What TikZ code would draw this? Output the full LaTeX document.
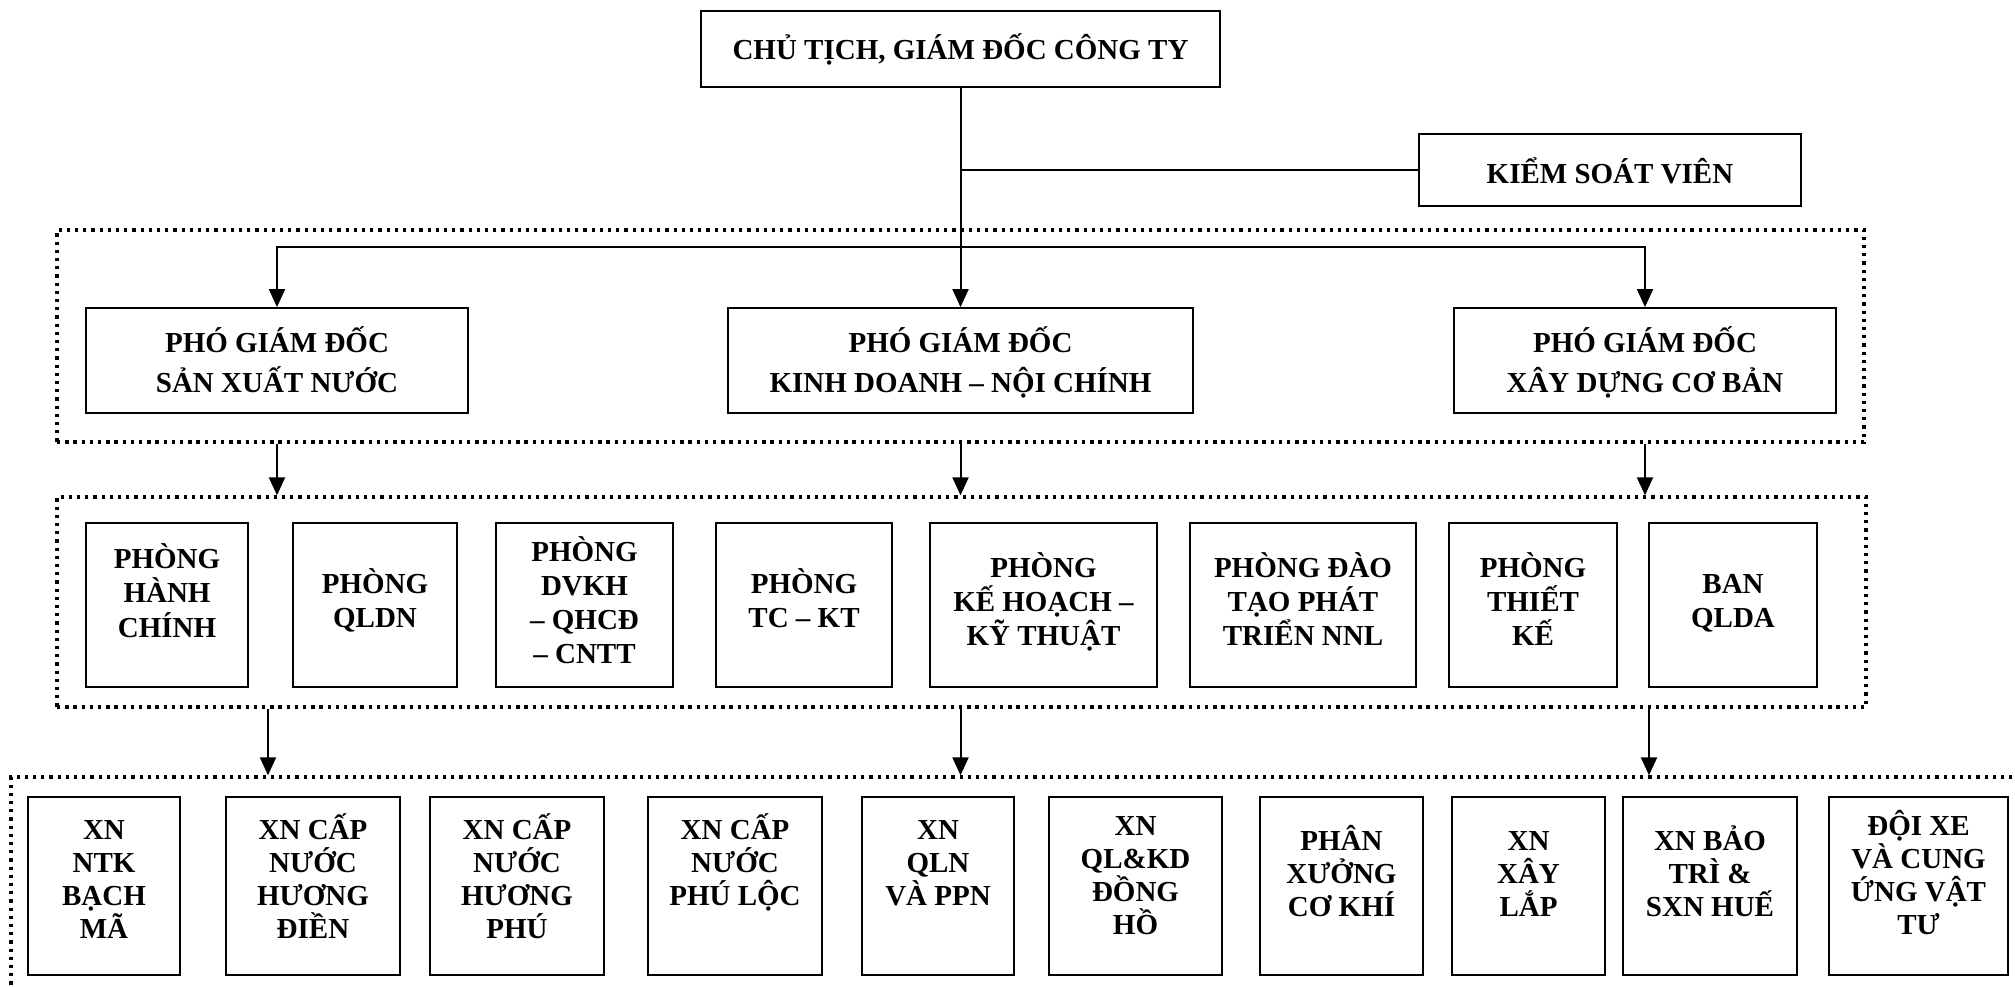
\documentclass[tikz,border=0pt]{standalone}
\usepackage{fontspec}
\setmainfont{Liberation Serif}
\usetikzlibrary{arrows.meta}
\newcommand\mylines[2]{\vtop{\baselineskip=#1pt\lineskiplimit=-\maxdimen\lineskip=0pt\halign{\hfil##\hfil\cr#2\crcr}}}
\newcommand\obox[8]{%
  \node[box, minimum width={(#4-#2)*1pt}, minimum height={(#5-#3)*1pt}] (#1) at ({(#2+#4)/2},{(#3+#5)/2}) {};
  \node[txt] (#1-t) at ({(#2+#4)/2},#6) {\mylines{#7}{#8}};
}
\tikzset{
  box/.style={draw, line width=1.8pt, inner sep=0pt},
  txt/.style={anchor=base, inner sep=0pt, font=\fontsize{29}{34}\selectfont\bfseries},
  grp/.style={draw, line width=3.3pt, dash pattern=on 3.3pt off 4.9pt, inner sep=0pt},
  conn/.style={line width=2pt},
  arr/.style={line width=2pt, -{Triangle[length=18pt,width=16pt]}}
}
\begin{document}
\begin{tikzpicture}[x=1pt,y=-1pt]
\useasboundingbox (0,0) rectangle (2015,987);
\clip (0,0) rectangle (2015,987);
% dotted groups
\node[grp, minimum width=1807pt, minimum height=212pt] (g1) at (960.5,336) {};
\node[grp, minimum width=1809pt, minimum height=210pt] (g2) at (961.5,602) {};
\node[grp, minimum width=2024pt, minimum height=233pt] (g3) at (1023,893.5) {};
% top
\obox{top}{701}{11}{1220}{87}{60}{34}{CHỦ TỊCH, GIÁM ĐỐC CÔNG TY}
\obox{ksv}{1419}{134}{1801}{206}{184}{34}{KIỂM SOÁT VIÊN}
% deputy directors
\obox{pgd1}{86}{308}{468}{413}{352}{40}{PHÓ GIÁM ĐỐC\cr SẢN XUẤT NƯỚC}
\obox{pgd2}{728}{308}{1193}{413}{352}{40}{PHÓ GIÁM ĐỐC\cr KINH DOANH – NỘI CHÍNH}
\obox{pgd3}{1454}{308}{1836}{413}{352}{40}{PHÓ GIÁM ĐỐC\cr XÂY DỰNG CƠ BẢN}
% departments
\obox{p1}{86}{523}{248}{687}{568}{34.5}{PHÒNG\cr HÀNH\cr CHÍNH}
\obox{p2}{293}{523}{457}{687}{593}{34.5}{PHÒNG\cr QLDN}
\obox{p3}{496}{523}{673}{687}{561}{34}{PHÒNG\cr DVKH\cr – QHCĐ\cr – CNTT}
\obox{p4}{716}{523}{892}{687}{593}{34.5}{PHÒNG\cr TC – KT}
\obox{p5}{930}{523}{1157}{687}{577}{34}{PHÒNG\cr KẾ HOẠCH –\cr KỸ THUẬT}
\obox{p6}{1190}{523}{1416}{687}{577}{34}{PHÒNG ĐÀO\cr TẠO PHÁT\cr TRIỂN NNL}
\obox{p7}{1449}{523}{1617}{687}{577}{34}{PHÒNG\cr THIẾT\cr KẾ}
\obox{p8}{1649}{523}{1817}{687}{593}{34.5}{BAN\cr QLDA}
% units
\obox{x1}{28}{797}{180}{975}{839}{33}{XN\cr NTK\cr BẠCH\cr MÃ}
\obox{x2}{226}{797}{400}{975}{839}{33}{XN CẤP\cr NƯỚC\cr HƯƠNG\cr ĐIỀN}
\obox{x3}{430}{797}{604}{975}{839}{33}{XN CẤP\cr NƯỚC\cr HƯƠNG\cr PHÚ}
\obox{x4}{648}{797}{822}{975}{839}{33}{XN CẤP\cr NƯỚC\cr PHÚ LỘC}
\obox{x5}{862}{797}{1014}{975}{839}{33}{XN\cr QLN\cr VÀ PPN}
\obox{x6}{1049}{797}{1222}{975}{835}{33}{XN\cr QL\&KD\cr ĐỒNG\cr HỒ}
\obox{x7}{1260}{797}{1423}{975}{850}{33}{PHÂN\cr XƯỞNG\cr CƠ KHÍ}
\obox{x8}{1452}{797}{1605}{975}{850}{33}{XN\cr XÂY\cr LẮP}
\obox{x9}{1623}{797}{1797}{975}{850}{33}{XN BẢO\cr TRÌ \&\cr SXN HUẾ}
\obox{x10}{1829}{797}{2008}{975}{835}{33}{ĐỘI XE\cr VÀ CUNG\cr ỨNG VẬT\cr TƯ}
% connectors
\coordinate (bar) at (960.5,247);
\coordinate (d1) at (268,0);
\coordinate (d2) at (960.5,0);
\coordinate (d3) at (1649,0);
\draw[arr] (top.south) -- (pgd2.north);
\draw[conn] (ksv.west) -- (ksv.west -| top.south);
\draw[arr] (bar) -| (pgd1.north);
\draw[arr] (bar) -| (pgd3.north);
\draw[arr] (g1.south -| pgd1.north) -- (g2.north -| pgd1.north);
\draw[arr] (g1.south -| pgd2.north) -- (g2.north -| pgd2.north);
\draw[arr] (g1.south -| pgd3.north) -- (g2.north -| pgd3.north);
\draw[arr] (g2.south -| d1) -- (g3.north -| d1);
\draw[arr] (g2.south -| d2) -- (g3.north -| d2);
\draw[arr] (g2.south -| d3) -- (g3.north -| d3);
\end{tikzpicture}
\end{document}
